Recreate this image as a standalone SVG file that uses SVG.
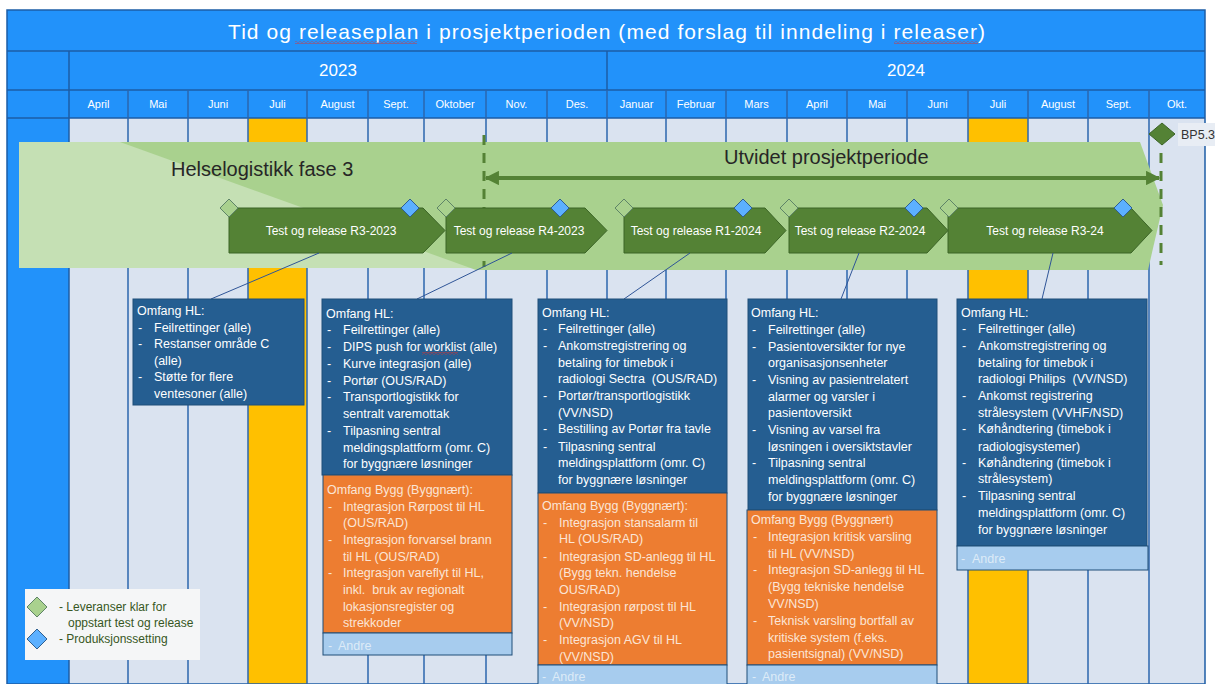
<svg xmlns="http://www.w3.org/2000/svg" width="1215" height="684" viewBox="0 0 1215 684">
  <defs>
    <style>
      text { font-family: "Liberation Sans", Arial, sans-serif; }
      .hdr { fill: #2292FA; }
      .cell { fill: #DAE3F0; }
      .hol { fill: #FFC000; }
      .gl { stroke: #2B66AE; stroke-width: 1.5; }
      .hl { stroke: #1C5DA6; stroke-width: 1.5; fill: none; }
      .title { fill: #FFFFFF; font-size: 21px; }
      .year { fill: #FFFFFF; font-size: 17px; }
      .mon { fill: #FFFFFF; font-size: 11px; text-anchor: middle; }
      .phase { fill: #262626; font-size: 20px; }
      .rel { fill: #548235; stroke: #3B6426; stroke-width: 1; }
      .rt { fill: #FFFFFF; font-size: 12px; text-anchor: middle; }
      .dg { fill: #A9D18E; stroke: #5E8467; stroke-width: 1; }
      .db { fill: #5CB0FF; stroke: #2F5F8F; stroke-width: 1; }
      .lead { stroke: #2F5597; stroke-width: 1; fill: none; }
      .dash { stroke: #548235; stroke-width: 3; stroke-dasharray: 10 8; fill: none; }
      .hlbox { fill: #255E91; stroke: #1F4E79; stroke-width: 1; }
      .bygg { fill: #ED7D31; stroke: #1F4E79; stroke-width: 1; }
      .andre { fill: #A7CCEE; stroke: #1F4E79; stroke-width: 1; }
      .tw { fill: #FFFFFF; font-size: 12.5px; }
      .to { fill: #FBE5D6; font-size: 12.5px; }
      .ta { fill: #DDEBF7; font-size: 12.5px; }
      .leg { fill: #375623; font-size: 12px; }
    </style>
    <marker id="ah" viewBox="0 0 10 10" refX="9" refY="5" markerWidth="4" markerHeight="3.6" orient="auto-start-reverse" markerUnits="strokeWidth">
      <path d="M0,0 L10,5 L0,10 Z" fill="#548235"/>
    </marker>
    <pattern id="squiggle" width="4" height="3" patternUnits="userSpaceOnUse">
      <path d="M0,2.4 L2,0.6 L4,2.4" stroke="#E0302B" stroke-width="0.8" fill="none"/>
    </pattern>
  </defs>

  <rect width="1215" height="684" fill="#FFFFFF"/>

  <!-- timeline grid -->
  <g id="grid">
    <rect class="hdr" x="7" y="10" width="1198" height="108"/>
    <rect class="hdr" x="7" y="118" width="62" height="566"/>
    <rect class="cell" x="69" y="118" width="1136" height="566"/>
    <rect class="hol" x="248" y="118" width="59" height="566"/>
    <rect class="hol" x="968" y="118" width="60" height="566"/>

    <!-- header borders -->
    <rect class="hl" x="7" y="10" width="1198" height="674"/>
    <line class="hl" x1="7" y1="51" x2="1205" y2="51"/>
    <line class="hl" x1="7" y1="90" x2="1205" y2="90"/>
    <line class="hl" x1="7" y1="118" x2="1205" y2="118"/>
    <line class="hl" x1="69" y1="51" x2="69" y2="684"/>
    <line class="hl" x1="607" y1="51" x2="607" y2="90"/>

    <!-- month columns -->
    <g class="gl">
      <line x1="128" y1="90" x2="128" y2="684"/>
      <line x1="188" y1="90" x2="188" y2="684"/>
      <line x1="248" y1="90" x2="248" y2="684"/>
      <line x1="307" y1="90" x2="307" y2="684"/>
      <line x1="368" y1="90" x2="368" y2="684"/>
      <line x1="424" y1="90" x2="424" y2="684"/>
      <line x1="486" y1="90" x2="486" y2="684"/>
      <line x1="547" y1="90" x2="547" y2="684"/>
      <line x1="607" y1="90" x2="607" y2="684"/>
      <line x1="666" y1="90" x2="666" y2="684"/>
      <line x1="726" y1="90" x2="726" y2="684"/>
      <line x1="787" y1="90" x2="787" y2="684"/>
      <line x1="847" y1="90" x2="847" y2="684"/>
      <line x1="907" y1="90" x2="907" y2="684"/>
      <line x1="968" y1="90" x2="968" y2="684"/>
      <line x1="1028" y1="90" x2="1028" y2="684"/>
      <line x1="1088" y1="90" x2="1088" y2="684"/>
      <line x1="1149" y1="90" x2="1149" y2="684"/>
    </g>

    <text class="title" x="228" y="39" textLength="757">Tid og releaseplan i prosjektperioden (med forslag til inndeling i releaser)</text>
    <rect x="295" y="41" width="122" height="3" fill="url(#squiggle)"/>
    <rect x="894" y="41" width="84" height="3" fill="url(#squiggle)"/>

    <text class="year" x="338" y="76" text-anchor="middle">2023</text>
    <text class="year" x="906" y="76" text-anchor="middle">2024</text>

    <text class="mon" x="98.5" y="108">April</text>
    <text class="mon" x="158" y="108">Mai</text>
    <text class="mon" x="218" y="108">Juni</text>
    <text class="mon" x="277.5" y="108">Juli</text>
    <text class="mon" x="337.5" y="108">August</text>
    <text class="mon" x="396" y="108">Sept.</text>
    <text class="mon" x="455" y="108">Oktober</text>
    <text class="mon" x="516.5" y="108">Nov.</text>
    <text class="mon" x="577" y="108">Des.</text>
    <text class="mon" x="636.5" y="108">Januar</text>
    <text class="mon" x="696" y="108">Februar</text>
    <text class="mon" x="756.5" y="108">Mars</text>
    <text class="mon" x="817" y="108">April</text>
    <text class="mon" x="877" y="108">Mai</text>
    <text class="mon" x="937.5" y="108">Juni</text>
    <text class="mon" x="998" y="108">Juli</text>
    <text class="mon" x="1058" y="108">August</text>
    <text class="mon" x="1118.5" y="108">Sept.</text>
    <text class="mon" x="1177" y="108">Okt.</text>
  </g>

  <!-- project phases -->
  <g id="phase-fase3">
    <rect x="19" y="142" width="470" height="126" fill="#C5E0B4"/>
  </g>
  <g id="phase-utvidet">
    <polygon points="120,142 1140,142 1163,205 1148,270 476,270" fill="#A9D18E"/>
    <text class="phase" x="171" y="176">Helselogistikk fase 3</text>
    <text class="phase" x="724" y="164">Utvidet prosjektperiode</text>
  </g>

  <!-- period boundaries -->
  <g id="boundaries">
    <line class="dash" x1="484" y1="135" x2="484" y2="267"/>
    <line class="dash" x1="1161" y1="153" x2="1161" y2="265"/>
  </g>

  <!-- milestone BP5.3 -->
  <g id="bp53">
    <polygon points="1162,123 1175,134 1162,145 1149,134" fill="#548235" stroke="#3B6426" stroke-width="1"/>
    <rect x="1178" y="123" width="37" height="23" fill="#E8EDF4"/>
    <text x="1181" y="139" fill="#333333" font-size="12.5">BP5.3</text>
  </g>

  <!-- releases -->
  <g id="rel-r3-2023">
    <path class="rel" d="M229,208 H423 L445,230.5 L423,253 H229 Z"/>
    <text class="rt" x="331" y="234.5">Test og release R3-2023</text>
    <polygon class="dg" points="229,199 238,208 229,217 220,208"/>
    <polygon class="db" points="410,199 419,208 410,217 401,208"/>
  </g>
  <g id="rel-r4-2023">
    <path class="rel" d="M446,208 H585 L607,230.5 L585,253 H446 Z"/>
    <text class="rt" x="519" y="234.5">Test og release R4-2023</text>
    <polygon class="dg" points="446,199 455,208 446,217 437,208"/>
    <polygon class="db" points="560,199 569,208 560,217 551,208"/>
  </g>
  <g id="rel-r1-2024">
    <path class="rel" d="M624,208 H765 L786,230.5 L765,253 H624 Z"/>
    <text class="rt" x="696" y="234.5">Test og release R1-2024</text>
    <polygon class="dg" points="624,199 633,208 624,217 615,208"/>
    <polygon class="db" points="743,199 752,208 743,217 734,208"/>
  </g>
  <g id="rel-r2-2024">
    <path class="rel" d="M789,208 H927 L948,230.5 L927,253 H789 Z"/>
    <text class="rt" x="860" y="234.5">Test og release R2-2024</text>
    <polygon class="dg" points="789,199 798,208 789,217 780,208"/>
    <polygon class="db" points="914,199 923,208 914,217 905,208"/>
  </g>
  <g id="rel-r3-24">
    <path class="rel" d="M948,208 H1131 L1152,230.5 L1131,253 H948 Z"/>
    <text class="rt" x="1045" y="234.5">Test og release R3-24</text>
    <polygon class="dg" points="949,199 958,208 949,217 940,208"/>
    <polygon class="db" points="1123,199 1132,208 1123,217 1114,208"/>
  </g>

  <!-- connectors -->
  <g id="connectors">
    <line x1="486" y1="178" x2="1159" y2="178" stroke="#548235" stroke-width="4" marker-start="url(#ah)" marker-end="url(#ah)"/>
    <line class="lead" x1="319" y1="253" x2="211" y2="299"/>
    <line class="lead" x1="512" y1="253" x2="417" y2="299"/>
    <line class="lead" x1="690" y1="253" x2="624" y2="299"/>
    <line class="lead" x1="859" y1="253" x2="841" y2="299"/>
    <line class="lead" x1="1053" y1="253" x2="1042" y2="299"/>
  </g>

  <!-- scope R3-2023 -->
  <g id="scope-r3-2023">
    <rect class="hlbox" x="133" y="299" width="171" height="106"/>
    <text class="tw">
      <tspan x="137" y="314.5">Omfang HL:</tspan>
      <tspan x="138" y="331.5">-</tspan><tspan x="154" y="331.5">Feilrettinger (alle)</tspan>
      <tspan x="138" y="347.5">-</tspan><tspan x="154" y="347.5">Restanser område C</tspan>
      <tspan x="154" y="364.5">(alle)</tspan>
      <tspan x="138" y="380.5">-</tspan><tspan x="154" y="380.5">Støtte for flere</tspan>
      <tspan x="154" y="397.5">ventesoner (alle)</tspan>
    </text>
  </g>

  <!-- scope R4-2023 -->
  <g id="scope-r4-2023">
    <rect class="hlbox" x="322" y="299" width="190" height="176"/>
    <text class="tw">
      <tspan x="326" y="317.5">Omfang HL:</tspan>
      <tspan x="327" y="333.5">-</tspan><tspan x="343" y="333.5">Feilrettinger (alle)</tspan>
      <tspan x="327" y="350.5">-</tspan><tspan x="343" y="350.5">DIPS push for worklist (alle)</tspan>
      <tspan x="327" y="367.5">-</tspan><tspan x="343" y="367.5">Kurve integrasjon (alle)</tspan>
      <tspan x="327" y="384.5">-</tspan><tspan x="343" y="384.5">Portør (OUS/RAD)</tspan>
      <tspan x="327" y="400.5">-</tspan><tspan x="343" y="400.5">Transportlogistikk for</tspan>
      <tspan x="343" y="417.5">sentralt varemottak</tspan>
      <tspan x="327" y="434.5">-</tspan><tspan x="343" y="434.5">Tilpasning sentral</tspan>
      <tspan x="343" y="451.5">meldingsplattform (omr. C)</tspan>
      <tspan x="343" y="467.5">for byggnære løsninger</tspan>
    </text>
    <rect x="422" y="352" width="36" height="3" fill="url(#squiggle)"/>
    <rect class="bygg" x="323" y="475" width="189" height="158"/>
    <text class="to">
      <tspan x="327" y="493.5">Omfang Bygg (Byggnært):</tspan>
      <tspan x="328" y="510.5">-</tspan><tspan x="343" y="510.5">Integrasjon Rørpost til HL</tspan>
      <tspan x="343" y="526.5">(OUS/RAD)</tspan>
      <tspan x="328" y="543.5">-</tspan><tspan x="343" y="543.5">Integrasjon forvarsel brann</tspan>
      <tspan x="343" y="560.5">til HL (OUS/RAD)</tspan>
      <tspan x="328" y="576.5">-</tspan><tspan x="343" y="576.5">Integrasjon vareflyt til HL,</tspan>
      <tspan x="343" y="593.5">inkl. &#160;bruk av regionalt</tspan>
      <tspan x="343" y="610.5">lokasjonsregister og</tspan>
      <tspan x="343" y="626.5">strekkoder</tspan>
    </text>
    <rect class="andre" x="323" y="633" width="189" height="22"/>
    <text class="ta"><tspan x="328" y="649.5">-</tspan><tspan x="338" y="649.5">Andre</tspan></text>
  </g>

  <!-- scope R1-2024 -->
  <g id="scope-r1-2024">
    <rect class="hlbox" x="538" y="299" width="189" height="194"/>
    <text class="tw">
      <tspan x="542" y="316.5">Omfang HL:</tspan>
      <tspan x="543" y="332.5">-</tspan><tspan x="558" y="332.5">Feilrettinger (alle)</tspan>
      <tspan x="543" y="349.5">-</tspan><tspan x="558" y="349.5">Ankomstregistrering og</tspan>
      <tspan x="558" y="366.5">betaling for timebok i</tspan>
      <tspan x="558" y="382.5">radiologi Sectra &#160;(OUS/RAD)</tspan>
      <tspan x="543" y="399.5">-</tspan><tspan x="558" y="399.5">Portør/transportlogistikk</tspan>
      <tspan x="558" y="416.5">(VV/NSD)</tspan>
      <tspan x="543" y="432.5">-</tspan><tspan x="558" y="432.5">Bestilling av Portør fra tavle</tspan>
      <tspan x="543" y="450.5">-</tspan><tspan x="558" y="450.5">Tilpasning sentral</tspan>
      <tspan x="558" y="466.5">meldingsplattform (omr. C)</tspan>
      <tspan x="558" y="483.5">for byggnære løsninger</tspan>
    </text>
    <rect class="bygg" x="538" y="493" width="189" height="172"/>
    <text class="to">
      <tspan x="542" y="509.5">Omfang Bygg (Byggnært):</tspan>
      <tspan x="543" y="526.5">-</tspan><tspan x="559" y="526.5">Integrasjon stansalarm til</tspan>
      <tspan x="559" y="542.5">HL (OUS/RAD)</tspan>
      <tspan x="543" y="560.5">-</tspan><tspan x="559" y="560.5">Integrasjon SD-anlegg til HL</tspan>
      <tspan x="559" y="576.5">(Bygg tekn. hendelse</tspan>
      <tspan x="559" y="593.5">OUS/RAD)</tspan>
      <tspan x="543" y="610.5">-</tspan><tspan x="559" y="610.5">Integrasjon rørpost til HL</tspan>
      <tspan x="559" y="626.5">(VV/NSD)</tspan>
      <tspan x="543" y="643.5">-</tspan><tspan x="559" y="643.5">Integrasjon AGV til HL</tspan>
      <tspan x="559" y="660.5">(VV/NSD)</tspan>
    </text>
    <rect class="andre" x="538" y="665" width="189" height="25"/>
    <text class="ta"><tspan x="542" y="680.5">-</tspan><tspan x="552" y="680.5">Andre</tspan></text>
  </g>

  <!-- scope R2-2024 -->
  <g id="scope-r2-2024">
    <rect class="hlbox" x="748" y="299" width="189" height="211"/>
    <text class="tw">
      <tspan x="751" y="316.5">Omfang HL:</tspan>
      <tspan x="752" y="333.5">-</tspan><tspan x="768" y="333.5">Feilrettinger (alle)</tspan>
      <tspan x="752" y="350.5">-</tspan><tspan x="768" y="350.5">Pasientoversikter for nye</tspan>
      <tspan x="768" y="366.5">organisasjonsenheter</tspan>
      <tspan x="752" y="383.5">-</tspan><tspan x="768" y="383.5">Visning av pasientrelatert</tspan>
      <tspan x="768" y="400.5">alarmer og varsler i</tspan>
      <tspan x="768" y="416.5">pasientoversikt</tspan>
      <tspan x="752" y="433.5">-</tspan><tspan x="768" y="433.5">Visning av varsel fra</tspan>
      <tspan x="768" y="450.5">løsningen i oversiktstavler</tspan>
      <tspan x="752" y="466.5">-</tspan><tspan x="768" y="466.5">Tilpasning sentral</tspan>
      <tspan x="768" y="483.5">meldingsplattform (omr. C)</tspan>
      <tspan x="768" y="500.5">for byggnære løsninger</tspan>
    </text>
    <rect class="bygg" x="747" y="510" width="190" height="155"/>
    <text class="to">
      <tspan x="751" y="523.5">Omfang Bygg (Byggnært)</tspan>
      <tspan x="753" y="540.5">-</tspan><tspan x="768" y="540.5">Integrasjon kritisk varsling</tspan>
      <tspan x="768" y="557.5">til HL (VV/NSD)</tspan>
      <tspan x="753" y="573.5">-</tspan><tspan x="768" y="573.5">Integrasjon SD-anlegg til HL</tspan>
      <tspan x="768" y="590.5">(Bygg tekniske hendelse</tspan>
      <tspan x="768" y="607.5">VV/NSD)</tspan>
      <tspan x="753" y="624.5">-</tspan><tspan x="768" y="624.5">Teknisk varsling bortfall av</tspan>
      <tspan x="768" y="641.5">kritiske system (f.eks.</tspan>
      <tspan x="768" y="657.5">pasientsignal) (VV/NSD)</tspan>
    </text>
    <rect class="andre" x="747" y="665" width="190" height="25"/>
    <text class="ta"><tspan x="752" y="680.5">-</tspan><tspan x="762" y="680.5">Andre</tspan></text>
  </g>

  <!-- scope R3-24 -->
  <g id="scope-r3-24">
    <rect class="hlbox" x="957" y="299" width="190" height="247"/>
    <text class="tw">
      <tspan x="961" y="316.5">Omfang HL:</tspan>
      <tspan x="962" y="332.5">-</tspan><tspan x="978" y="332.5">Feilrettinger (alle)</tspan>
      <tspan x="962" y="349.5">-</tspan><tspan x="978" y="349.5">Ankomstregistrering og</tspan>
      <tspan x="978" y="366.5">betaling for timebok i</tspan>
      <tspan x="978" y="382.5">radiologi Philips &#160;(VV/NSD)</tspan>
      <tspan x="962" y="399.5">-</tspan><tspan x="978" y="399.5">Ankomst registrering</tspan>
      <tspan x="978" y="416.5">strålesystem (VVHF/NSD)</tspan>
      <tspan x="962" y="432.5">-</tspan><tspan x="978" y="432.5">Køhåndtering (timebok i</tspan>
      <tspan x="978" y="450.5">radiologisystemer)</tspan>
      <tspan x="962" y="466.5">-</tspan><tspan x="978" y="466.5">Køhåndtering (timebok i</tspan>
      <tspan x="978" y="482.5">strålesystem)</tspan>
      <tspan x="962" y="499.5">-</tspan><tspan x="978" y="499.5">Tilpasning sentral</tspan>
      <tspan x="978" y="516.5">meldingsplattform (omr. C)</tspan>
      <tspan x="978" y="533.5">for byggnære løsninger</tspan>
    </text>
    <rect class="andre" x="957" y="546" width="191" height="24"/>
    <text class="ta"><tspan x="961" y="562.5">-</tspan><tspan x="972" y="562.5">Andre</tspan></text>
  </g>

  <!-- legend -->
  <g id="legend">
    <rect x="25" y="589" width="175" height="71" fill="#F5F6F7"/>
    <polygon class="dg" points="37,597 47,607 37,617 27,607"/>
    <polygon class="db" points="37,629 47,639 37,649 27,639"/>
    <text class="leg">
      <tspan x="59" y="611">- Leveranser klar for</tspan>
      <tspan x="68" y="627">oppstart test og release</tspan>
      <tspan x="59" y="643">- Produksjonssetting</tspan>
    </text>
  </g>
</svg>
